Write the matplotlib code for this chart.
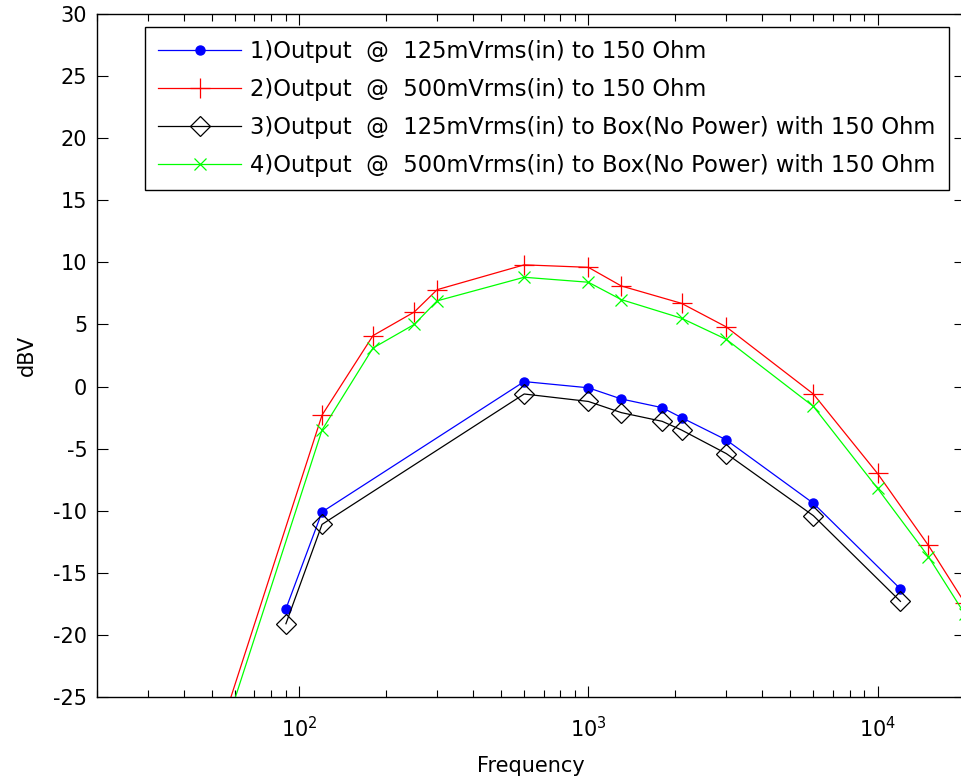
import matplotlib
matplotlib.use("Agg")
import matplotlib.pyplot as plt
from matplotlib.ticker import LogLocator, FixedLocator

plt.rcParams['font.family'] = ['DejaVu Sans']
plt.rcParams['mathtext.fontset'] = 'dejavusans'
plt.rcParams['mathtext.default'] = 'regular'
plt.rcParams['axes.unicode_minus'] = False

freq_low = [90, 120, 600, 1000, 1300, 1800, 2100, 3000, 6000, 12000]
s1 = [-17.9, -10.1, 0.4, -0.1, -1.0, -1.7, -2.5, -4.3, -9.4, -16.3]
s3 = [-19.1, -11.1, -0.6, -1.2, -2.1, -2.8, -3.5, -5.4, -10.4, -17.3]

freq_high = [50, 120, 180, 250, 300, 600, 1000, 1300, 2100, 3000, 6000, 10000, 15000, 20000]
s2 = [-29.7, -2.3, 4.1, 6.0, 7.8, 9.8, 9.6, 8.1, 6.7, 4.8, -0.6, -7.0, -12.8, -17.4]
s4 = [-30.8, -3.5, 3.1, 5.0, 6.9, 8.8, 8.4, 7.0, 5.5, 3.8, -1.6, -8.2, -13.7, -18.3]

labels = [
    "1)Output  @  125mVrms(in) to 150 Ohm",
    "2)Output  @  500mVrms(in) to 150 Ohm",
    "3)Output  @  125mVrms(in) to Box(No Power) with 150 Ohm",
    "4)Output  @  500mVrms(in) to Box(No Power) with 150 Ohm",
]
yticks = [-25, -20, -15, -10, -5, 0, 5, 10, 15, 20, 25, 30]

W, H = 961, 782
fig = plt.figure(figsize=(W / 100, H / 100), dpi=100)
ax = fig.add_axes([97 / W, (H - 697) / H, (964.6 - 97) / W, (697 - 14) / H])

lw = 0.9
ax.plot(freq_low, s1, color='#0000ff', marker='o', markersize=6.5, lw=lw, label=labels[0])
ax.plot(freq_high, s2, color='#ff0000', marker='+', markersize=15, markeredgewidth=0.9, lw=lw, label=labels[1])
ax.plot(freq_low, s3, color='black', marker='D', markersize=10, markerfacecolor='none',
        markeredgewidth=0.9, lw=lw, label=labels[2])
ax.plot(freq_high, s4, color='#00ff00', marker='x', markersize=8, markeredgewidth=0.9, lw=lw, label=labels[3])

ax.set_xscale('log')
ax.set_xlim(20, 20000)
ax.set_ylim(-25, 30)
ax.yaxis.set_major_locator(FixedLocator(yticks))
ax.xaxis.set_major_locator(LogLocator(base=10, numticks=10))
ax.xaxis.set_minor_locator(LogLocator(base=10, subs=range(2, 10), numticks=20))

ax.tick_params(which='both', direction='in', top=True, right=True, labelsize=15)
ax.tick_params(axis='y', pad=7)
ax.tick_params(axis='x', pad=14)
ax.tick_params(which='major', length=8, width=0.8)
ax.tick_params(which='minor', length=5, width=0.8)
for sp in ax.spines.values():
    sp.set_linewidth(1.0)

ax.set_xlabel('Frequency', fontsize=15, labelpad=10)
ax.set_ylabel('dBV', fontsize=15, labelpad=12)

leg = ax.legend(loc='upper left', bbox_to_anchor=(145 / W, 1 - 27 / H), bbox_transform=fig.transFigure,
                fontsize=16.3, frameon=True, fancybox=False, edgecolor='black', framealpha=1,
                handlelength=3.67, handletextpad=0.4, borderpad=0.58, labelspacing=0.665, borderaxespad=0)
leg.get_frame().set_linewidth(1.0)

fig.savefig('out.png', dpi=100)
